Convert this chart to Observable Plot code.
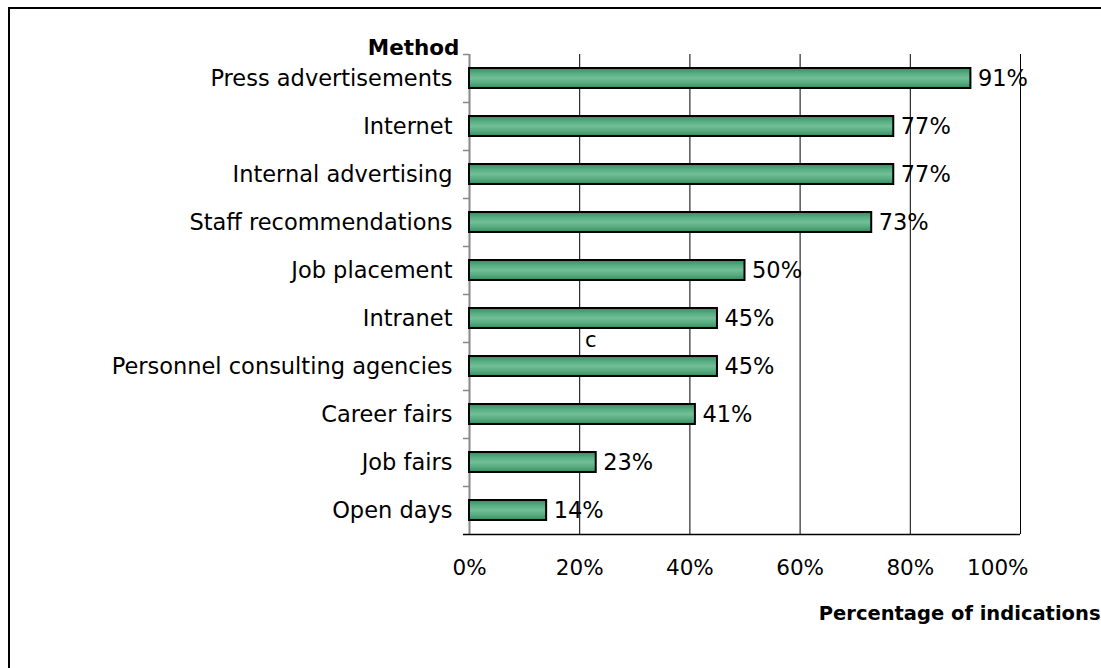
<!DOCTYPE html>
<html>
<head>
<meta charset="utf-8">
<script src="https://cdn.jsdelivr.net/npm/d3@7"></script>
<script src="https://cdn.jsdelivr.net/npm/@observablehq/plot@0.6"></script>
<style>
  html, body { margin: 0; padding: 0; background: #fff; overflow: hidden; width: 1101px; height: 668px; }
  #frame { position: absolute; left: 8px; top: 7px; width: 1200px; height: 800px; border: 2px solid #000; box-sizing: border-box; }
  #chart { position: absolute; left: 0; top: 0; }
  text { font-family: "DejaVu Sans", Verdana, sans-serif; }
</style>
</head>
<body>
<div id="frame"></div>
<div id="chart"></div>
<script>
const methods = ["Press advertisements", "Internet", "Internal advertising", "Staff recommendations", "Job placement", "Intranet", "Personnel consulting agencies", "Career fairs", "Job fairs", "Open days"];
const shares = [0.91, 0.77, 0.77, 0.73, 0.50, 0.45, 0.45, 0.41, 0.23, 0.14];
const xTicks = [0, 0.2, 0.4, 0.6, 0.8, 1.0];
const strayNotes = [{x: 0.22, y: "Intranet", text: "c"}];

const data = methods.map((m, i) => ({method: m, value: shares[i]}));
const font = "DejaVu Sans, Verdana, sans-serif";
const pct = d => Math.round(d * 100) + "%";

const plot = Plot.plot({
  width: 1101,
  height: 668,
  marginLeft: 469,
  marginRight: 81,
  marginTop: 54,
  marginBottom: 134,
  style: {fontFamily: font, fontSize: "22px", background: "transparent", color: "#000"},
  x: {domain: [0, 1], axis: null},
  y: {domain: methods, padding: 0},
  marks: [
    Plot.ruleX(xTicks.slice(1), {stroke: "#000", strokeWidth: 1}),
    Plot.ruleX([0], {stroke: "#888", strokeWidth: 2}),
    Plot.ruleY(methods, {y: d => d, x1: 0, x2: 0, dy: -24, insetLeft: -6, insetRight: 0, stroke: "#888", strokeWidth: 1.5}),
    Plot.ruleY([methods[methods.length - 1]], {dy: 24, insetLeft: -6, stroke: "#000", strokeWidth: 1.5}),
    Plot.tickX(xTicks, {x: d => d, y: methods[methods.length - 1], dy: 24, insetTop: 48, insetBottom: -6, stroke: "#555"}),
    Plot.barX(data, {y: "method", x: "value", insetTop: 14, insetBottom: 14, fill: "url(#barGrad)", stroke: "#000", strokeWidth: 2}),
    Plot.text(data, {y: "method", x: "value", text: d => pct(d.value), textAnchor: "start", dx: 7, fontSize: 22.5, fill: "#000"}),
    Plot.text(strayNotes, {x: "x", y: "y", text: "text", dy: 22, fontSize: 21, fontFamily: "Liberation Sans, Arial, sans-serif", fill: "#000"}),
    Plot.axisY({tickSize: 0, tickPadding: 17, fontSize: 22.5, label: null}),
    Plot.text(xTicks.slice(0, -1), {x: d => d, text: pct, frameAnchor: "bottom", dy: 40, fontSize: 21.5, fill: "#000"}),
    Plot.text(xTicks.slice(-1), {x: d => d, text: pct, frameAnchor: "bottom", dy: 40, dx: 8, textAnchor: "end", fontSize: 21.5, fill: "#000"}),
    Plot.text(["Method"], {frameAnchor: "top-left", text: d => d, textAnchor: "end", dx: -10, dy: -15, fontWeight: "bold", fontSize: 21.5}),
    Plot.text(["Percentage of indications"], {frameAnchor: "bottom-right", text: d => d, textAnchor: "end", dx: 80, dy: 85, fontWeight: "bold", fontSize: 19.5})
  ]
});

const defs = d3.select(plot).insert("defs", ":first-child");
const g = defs.append("linearGradient").attr("id", "barGrad").attr("x1", 0).attr("y1", 0).attr("x2", 0).attr("y2", 1);
[["0%", "#338e5e"], ["25%", "#55ab7f"], ["50%", "#72bf97"], ["75%", "#55ab7f"], ["100%", "#338e5e"]].forEach(([o, c]) =>
  g.append("stop").attr("offset", o).attr("stop-color", c));

document.getElementById("chart").appendChild(plot);
</script>
</body>
</html>
